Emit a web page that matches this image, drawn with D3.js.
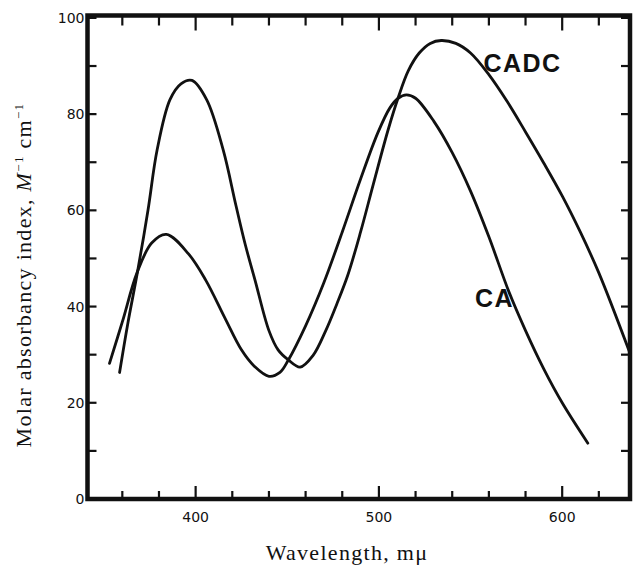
<!DOCTYPE html>
<html>
<head>
<meta charset="utf-8">
<script src="https://cdn.jsdelivr.net/npm/d3@7"></script>
<style>
  body { margin: 0; background: #fff; }
  .curve { fill: none; stroke: #111; stroke-width: 2.8; stroke-linecap: round; }
  .num { font-family: "DejaVu Sans", sans-serif; font-size: 14px; fill: #111; }
  .title { font-family: "Liberation Serif", serif; font-size: 22px; letter-spacing: 1.3px; fill: #111; }
  .label { font-family: "Liberation Sans", sans-serif; font-weight: bold; font-size: 25px; letter-spacing: 1.5px; fill: #111; }
</style>
</head>
<body>
<svg id="chart" width="635" height="567"></svg>
<script>
// Values (wavelength in mμ, absorbancy)
const caWave  = [353, 360, 368, 376, 384, 396, 405.5, 416, 425, 432, 440, 446, 450.6, 460, 470, 480, 490, 499.5, 506, 510.5, 515, 520, 530, 540, 550, 560, 571, 580, 590, 600, 614];
const caAbs   = [28.2, 36.8, 47, 53.2, 55, 51, 45.5, 37.6, 31, 27.6, 25.5, 26.3, 28.9, 36, 45, 55.5, 66.5, 76.2, 81.3, 83.3, 84, 83.3, 78.5, 72, 64, 54.5, 43, 35, 27, 20, 11.6];

const cadcWave = [358.5, 363, 368, 374, 379, 386, 392, 398, 406, 415, 422, 427, 432.4, 440, 445, 450.6, 457, 464, 471, 477, 483, 490, 497, 505, 510.5, 516, 522, 528, 534, 542, 550, 560, 570, 580, 590, 600, 610, 620, 637];
const cadcAbs  = [26.3, 36.5, 46.6, 60, 72.6, 83, 86.3, 87, 83, 72.6, 61, 53, 45.5, 35, 31, 28.9, 27.4, 29.8, 35, 40.5, 46.5, 55.5, 65.5, 76.7, 83.4, 89, 92.7, 94.7, 95.3, 94.7, 92.7, 88.2, 82.6, 76.3, 69.8, 63, 55.4, 47, 30.3];

// Tick values
const xLabels = [400, 500, 600];
const xMinor  = [360, 380, 420, 440, 460, 480, 520, 540, 560, 580, 620];
const yLabels = [0, 20, 40, 60, 80, 100];
const yMinor  = [10, 30, 50, 70, 90];

let svg = d3.select("#chart");

// Scales: the frame runs from 341 to 637 mμ and 0 to ~100
let x = d3.scaleLinear().domain([341, 637]).range([87.5, 630]);
let y = d3.scaleLinear().domain([0, 100.5]).range([499, 15.5]);

let [x0, x1] = x.range();
let [y0, y1] = y.range();

// Heavy frame
svg.append("rect")
  .attr("x", x0)
  .attr("y", y1)
  .attr("width", x1 - x0)
  .attr("height", y0 - y1)
  .attr("fill", "none")
  .attr("stroke", "#111")
  .attr("stroke-width", 4.5);

// Tick marks, all pointing into the frame
function xTicks(values, len, yPos, dir) {
  svg.append("g").selectAll("line")
    .data(values)
    .enter()
    .append("line")
    .attr("stroke", "#111")
    .attr("stroke-width", 2.2)
    .attr("x1", d => x(d)).attr("x2", d => x(d))
    .attr("y1", yPos).attr("y2", yPos + dir * len);
}
function yTicks(values, len, xPos, dir) {
  svg.append("g").selectAll("line")
    .data(values)
    .enter()
    .append("line")
    .attr("stroke", "#111")
    .attr("stroke-width", 2.2)
    .attr("y1", d => y(d)).attr("y2", d => y(d))
    .attr("x1", xPos).attr("x2", xPos + dir * len);
}
xTicks(xLabels, 13, y0, -1);
xTicks(xMinor, 8, y0, -1);
xTicks(xLabels, 15, y1, 1);
xTicks(xMinor, 10, y1, 1);
yTicks(yLabels.concat(yMinor), 9, x0, 1);
yTicks(yLabels.concat(yMinor), 9, x1, -1);

// Tick labels
svg.append("g").selectAll("text")
  .data(xLabels)
  .enter()
  .append("text")
  .attr("class", "num")
  .attr("x", d => x(d))
  .attr("y", y0 + 23)
  .attr("text-anchor", "middle")
  .text(d => d);

svg.append("g").selectAll("text")
  .data(yLabels)
  .enter()
  .append("text")
  .attr("class", "num")
  .attr("x", x0 - 3)
  .attr("y", d => y(d) + 5)
  .attr("text-anchor", "end")
  .text(d => d);

// Curves
let line = d3.line()
  .x(d => x(d[0]))
  .y(d => y(d[1]))
  .curve(d3.curveCatmullRom.alpha(0.5));

svg.append("path")
  .datum(d3.zip(caWave, caAbs))
  .attr("class", "curve")
  .attr("d", line);

svg.append("path")
  .datum(d3.zip(cadcWave, cadcAbs))
  .attr("class", "curve")
  .attr("d", line);

// Curve names
svg.append("text").attr("class", "label")
  .attr("x", x(557)).attr("y", y(88.8))
  .text("CADC");
svg.append("text").attr("class", "label")
  .attr("x", x(552.4)).attr("y", y(39.9))
  .text("CA");

// Axis titles
svg.append("text").attr("class", "title")
  .attr("x", 347).attr("y", 560)
  .attr("text-anchor", "middle")
  .text("Wavelength, mμ");

let yTitle = svg.append("text").attr("class", "title")
  .attr("transform", "translate(31,275) rotate(-90)")
  .attr("text-anchor", "middle");
yTitle.append("tspan").text("Molar absorbancy index, ");
yTitle.append("tspan").attr("font-style", "italic").text("M");
yTitle.append("tspan").attr("dy", -8).attr("font-size", "13px").text("−1");
yTitle.append("tspan").attr("dy", 8).text(" cm");
yTitle.append("tspan").attr("dy", -8).attr("font-size", "13px").text("−1");
</script>
</body>
</html>
